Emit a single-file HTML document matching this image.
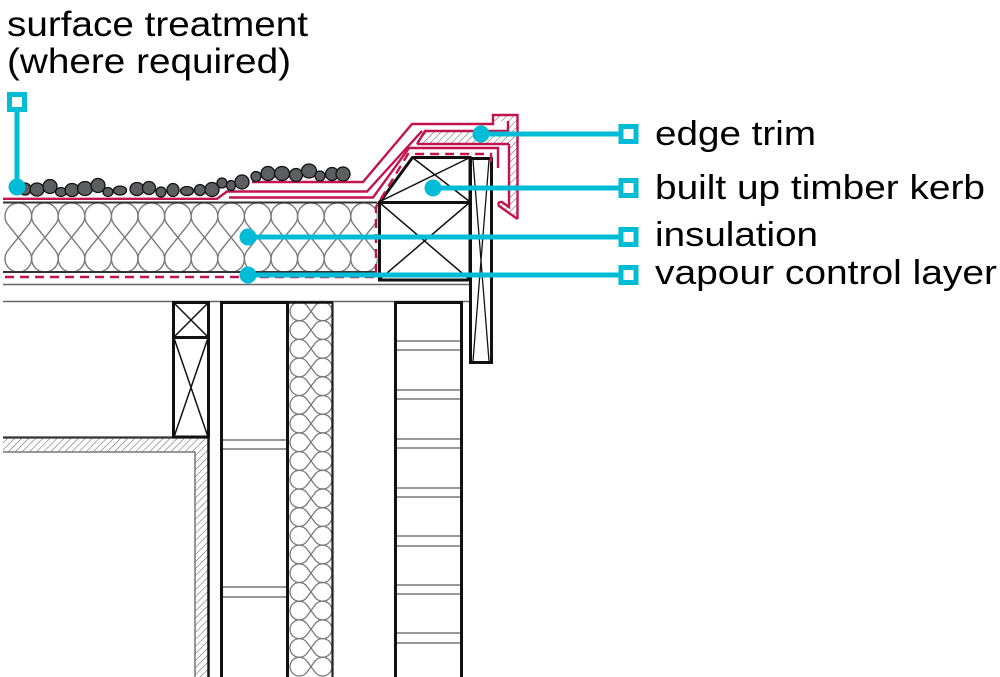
<!DOCTYPE html>
<html><head><meta charset="utf-8"><style>
html,body{margin:0;padding:0;background:#fff;}
svg{display:block;}
text{font-family:"Liberation Sans",Arial,sans-serif;fill:#000;}
</style></head><body>
<svg width="1000" height="677" viewBox="0 0 1000 677" xmlns="http://www.w3.org/2000/svg">
<defs>
<pattern id="h" width="5" height="5" patternUnits="userSpaceOnUse" patternTransform="rotate(45)">
<line x1="0" y1="0" x2="0" y2="5" stroke="#666" stroke-width="1.1"/>
</pattern>
<path id="rc" d="M2.95,224.6 A13.3,13.3 0 1 1 23.65,224.6 L2.95,250.4 A13.3,13.3 0 1 0 23.65,250.4 Z"/>
<path id="wc" d="M306.86,305.77 A9.35,9.35 0 1 0 306.86,316.93 L315.14,305.77 A9.35,9.35 0 1 1 315.14,316.93 Z"/>
</defs>
<rect width="1000" height="677" fill="#fff"/>

<!-- roof insulation -->
<g fill="none" stroke="#7a7a7a" stroke-width="1.4">
<use href="#rc" x="5"/><use href="#rc" x="31.6"/><use href="#rc" x="58.2"/><use href="#rc" x="84.8"/>
<use href="#rc" x="111.4"/><use href="#rc" x="138"/><use href="#rc" x="164.6"/><use href="#rc" x="191.2"/>
<use href="#rc" x="217.8"/><use href="#rc" x="244.4"/><use href="#rc" x="271"/><use href="#rc" x="297.6"/>
<use href="#rc" x="324.2"/><use href="#rc" x="350.8"/>
</g>
<rect x="377.5" y="200" width="3" height="75" fill="#fff"/>
<line x1="3" y1="202.5" x2="377" y2="202.5" stroke="#333" stroke-width="2"/>
<line x1="3" y1="272" x2="377" y2="272" stroke="#333" stroke-width="2"/>

<!-- deck lines -->
<line x1="3" y1="284.5" x2="472" y2="284.5" stroke="#666" stroke-width="1.6"/>
<line x1="3" y1="301.5" x2="472" y2="301.5" stroke="#666" stroke-width="1.6"/>

<!-- floor slab -->
<path d="M3,437 L209,437 L209,677 L195,677 L195,452 L3,452 Z" fill="url(#h)"/>
<path d="M3,452 L195,452 L195,677" fill="none" stroke="#777" stroke-width="1.5"/>
<line x1="3" y1="437.5" x2="209" y2="437.5" stroke="#333" stroke-width="2.2"/>
<line x1="208.5" y1="437" x2="208.5" y2="677" stroke="#111" stroke-width="2.5"/>

<!-- left timber stack -->
<g fill="none" stroke="#111">
<rect x="173.5" y="302.5" width="35" height="35" stroke-width="3"/>
<rect x="173.5" y="337.5" width="35" height="99.5" stroke-width="3"/>
<path d="M174,303 L208,337 M208,303 L174,337 M174,338 L208,437 M208,338 L174,437" stroke-width="1.5"/>
</g>

<!-- stud wall -->
<g stroke="#777" stroke-width="1.5">
<line x1="221" y1="440" x2="287" y2="440"/><line x1="221" y1="449" x2="287" y2="449"/>
<line x1="221" y1="587" x2="287" y2="587"/><line x1="221" y1="597" x2="287" y2="597"/>
</g>
<path d="M221.5,677 L221.5,302.5 L287.5,302.5 L287.5,677" fill="none" stroke="#111" stroke-width="3"/>

<!-- wall insulation -->
<g fill="none" stroke="#7a7a7a" stroke-width="1.3">
<use href="#wc"/><use href="#wc" y="18.7"/><use href="#wc" y="37.4"/><use href="#wc" y="56.1"/><use href="#wc" y="74.8"/>
<use href="#wc" y="93.5"/><use href="#wc" y="112.2"/><use href="#wc" y="130.9"/><use href="#wc" y="149.6"/>
<use href="#wc" y="168.3"/><use href="#wc" y="187"/><use href="#wc" y="205.7"/><use href="#wc" y="224.4"/>
<use href="#wc" y="243.1"/><use href="#wc" y="261.8"/><use href="#wc" y="280.5"/><use href="#wc" y="299.2"/>
<use href="#wc" y="317.9"/><use href="#wc" y="336.6"/><use href="#wc" y="355.3"/>
</g>
<line x1="289" y1="302.5" x2="333" y2="302.5" stroke="#111" stroke-width="2.5"/>
<line x1="332.5" y1="302" x2="332.5" y2="677" stroke="#222" stroke-width="2.2"/>

<!-- right stud box -->
<g stroke="#777" stroke-width="1.5">
<line x1="396" y1="341" x2="462" y2="341"/><line x1="396" y1="350" x2="462" y2="350"/>
<line x1="396" y1="390" x2="462" y2="390"/><line x1="396" y1="399" x2="462" y2="399"/>
<line x1="396" y1="439" x2="462" y2="439"/><line x1="396" y1="448" x2="462" y2="448"/>
<line x1="396" y1="488" x2="462" y2="488"/><line x1="396" y1="497" x2="462" y2="497"/>
<line x1="396" y1="536" x2="462" y2="536"/><line x1="396" y1="546" x2="462" y2="546"/>
<line x1="396" y1="585" x2="462" y2="585"/><line x1="396" y1="594" x2="462" y2="594"/>
<line x1="396" y1="633" x2="462" y2="633"/><line x1="396" y1="643" x2="462" y2="643"/>
</g>
<path d="M395.5,677 L395.5,302.5 L461.5,302.5 L461.5,677" fill="none" stroke="#111" stroke-width="3"/>

<!-- kerb -->
<g fill="none" stroke="#111">
<rect x="379.5" y="202.5" width="90.5" height="77.5" fill="#fff" stroke-width="3"/>
<path d="M380,203 L469,279 M469,203 L380,279" stroke-width="1.5"/>
<path d="M379.5,202.5 L412.5,157.5 L470,157.5 L470,202.5 Z" fill="#fff" stroke-width="3"/>
<path d="M413,158 L469,201 M381,201 L469,158" stroke-width="1.5"/>
</g>

<!-- fascia -->
<g fill="none" stroke="#111">
<rect x="470.5" y="158.5" width="21" height="204" fill="#fff" stroke-width="3"/>
<path d="M473,160 L489,361 M489,160 L473,361" stroke-width="1.3"/>
</g>

<!-- edge trim -->
<path d="M417,144 L425,131 L508,131 L508,121 L493,121 L493,115 L517.5,115 L517.5,219 L499,206 Q497,201.5 502,202 L509,207 L509,144 Z" fill="url(#h)" stroke="none"/>
<g fill="none" stroke="#c3134f" stroke-width="2.4" stroke-linejoin="miter">
<path d="M417,144 L425,131 L508,131 L508,121 M509,144 L417,144 M509,144 L509,207 L502,202 Q497,201.5 499,206 L517.5,219"/>
<path d="M252,182 L363,182 L412,124 L493,124 L493,115 L517.5,115 L517.5,219"/>
<path d="M3,198.8 L217,198.8 L227,191.5 L367,191.5 L422,131"/>
<path d="M229,197.5 L373,197.5 L409,148 L498,148 L498,168"/>
<path d="M5,277 L376,277 L376,207 L408,154 L491,154 L491,168" stroke-dasharray="9 6"/>
</g>

<!-- gravel -->
<g fill="#5d5e62" stroke="#111" stroke-width="1.3">
<ellipse cx="25" cy="189" rx="6" ry="6"/>
<ellipse cx="37" cy="189.5" rx="7" ry="6.5"/>
<ellipse cx="50" cy="186.5" rx="7" ry="7"/>
<ellipse cx="61" cy="192" rx="5.5" ry="4.5"/>
<ellipse cx="72" cy="190" rx="7" ry="6.5"/>
<ellipse cx="85" cy="188.5" rx="7.5" ry="7"/>
<ellipse cx="98" cy="185.5" rx="7" ry="7"/>
<ellipse cx="108" cy="192" rx="5" ry="4.5"/>
<ellipse cx="120" cy="190.5" rx="6.5" ry="4.5"/>
<ellipse cx="137" cy="189" rx="7" ry="6.5"/>
<ellipse cx="149" cy="188" rx="6.5" ry="6.5"/>
<ellipse cx="161" cy="192" rx="5" ry="5"/>
<ellipse cx="173" cy="190" rx="6" ry="6.5"/>
<ellipse cx="187" cy="191" rx="6.5" ry="4.5"/>
<ellipse cx="200" cy="190" rx="5.5" ry="5.5"/>
<ellipse cx="212" cy="189.5" rx="7" ry="7"/>
<ellipse cx="222" cy="183" rx="5" ry="5"/>
<ellipse cx="231" cy="185.5" rx="4.5" ry="5"/>
<ellipse cx="242" cy="182" rx="7" ry="7"/>
<ellipse cx="256" cy="176.5" rx="5" ry="5"/>
<ellipse cx="268" cy="173.5" rx="7" ry="7"/>
<ellipse cx="282" cy="173.5" rx="7.5" ry="7"/>
<ellipse cx="296" cy="175" rx="6.5" ry="6.5"/>
<ellipse cx="309" cy="171" rx="7.5" ry="7"/>
<ellipse cx="320" cy="176" rx="5" ry="5"/>
<ellipse cx="332" cy="174" rx="6.5" ry="6.5"/>
<ellipse cx="343" cy="174" rx="7" ry="7"/>
</g>

<!-- cyan leaders -->
<g stroke="#00bcd6" stroke-width="5" fill="none">
<line x1="17" y1="111" x2="17" y2="187"/>
<rect x="9.5" y="94.5" width="15" height="15"/>
<line x1="481" y1="134" x2="621" y2="134"/>
<rect x="621" y="126.5" width="15" height="15"/>
<line x1="433" y1="188" x2="621" y2="188"/>
<rect x="621" y="180.5" width="15" height="15"/>
<line x1="248" y1="237" x2="621" y2="237"/>
<rect x="621" y="229.5" width="15" height="15"/>
<line x1="248" y1="275" x2="621" y2="275"/>
<rect x="621" y="267.5" width="15" height="15"/>
</g>
<g fill="#00bcd6">
<circle cx="17" cy="187" r="8.5"/>
<circle cx="481" cy="134" r="8.5"/>
<circle cx="433" cy="188" r="8.5"/>
<circle cx="248" cy="237" r="8.5"/>
<circle cx="248" cy="275" r="8.5"/>
</g>

<!-- labels -->
<text x="7" y="36" font-size="35" textLength="301" lengthAdjust="spacingAndGlyphs">surface treatment</text>
<text x="7" y="73" font-size="35" textLength="284" lengthAdjust="spacingAndGlyphs">(where required)</text>
<text x="655" y="145" font-size="34" textLength="161" lengthAdjust="spacingAndGlyphs">edge trim</text>
<text x="655" y="199" font-size="34" textLength="330" lengthAdjust="spacingAndGlyphs">built up timber kerb</text>
<text x="655" y="246" font-size="34" textLength="163" lengthAdjust="spacingAndGlyphs">insulation</text>
<text x="655" y="284" font-size="34" textLength="342" lengthAdjust="spacingAndGlyphs">vapour control layer</text>
</svg>
</body></html>
